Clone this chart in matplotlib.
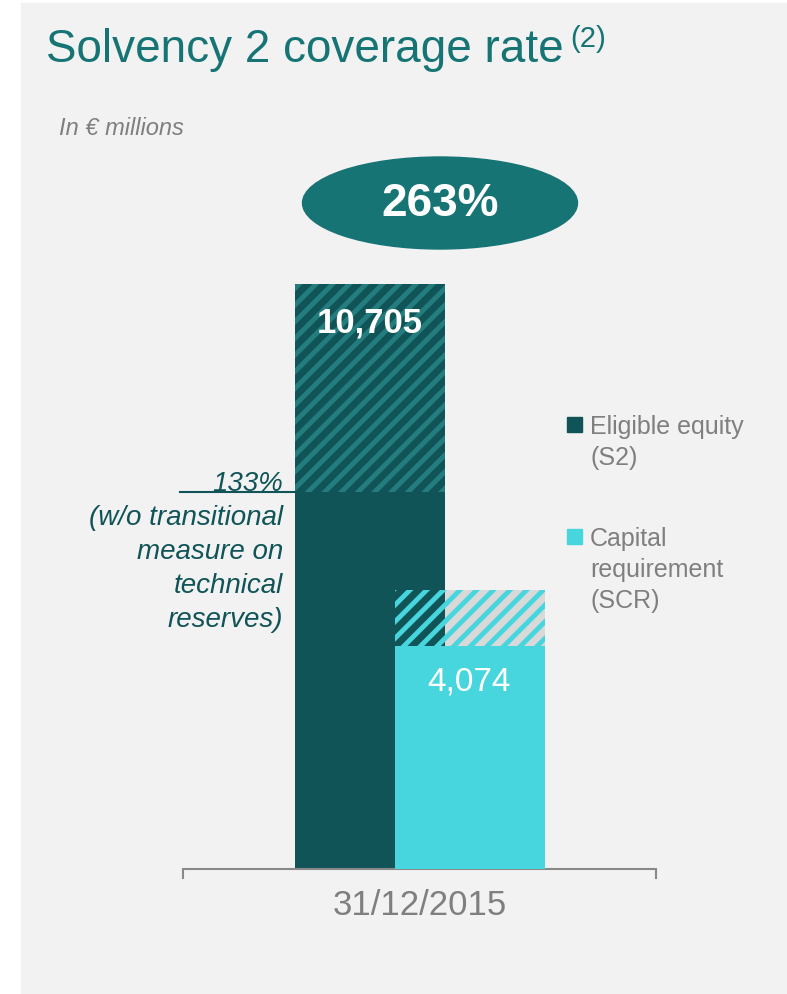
import matplotlib.pyplot as plt
from matplotlib.patches import Ellipse, Rectangle

W, H = 787, 995

# values (in EUR millions)
dates = ['31/12/2015']
series = ['Eligible equity\n(S2)', 'Capital\nrequirement\n(SCR)']
equity_total = [10705]
equity_wo_transitional = [6900]
scr = [4074]
scr_upper = [5100]
coverage = ['263%']
coverage_wo_transitional = ['133%']
note_wo = '(w/o transitional\nmeasure on\ntechnical\nreserves)'

dark = '#115458'
dark_hatch = '#237d7e'
cyan = '#47d6de'
teal = '#177474'
grey_txt = '#7f7f7f'
axis_grey = '#898989'

plt.rcParams['font.family'] = ['Liberation Sans', 'DejaVu Sans']
plt.rcParams['hatch.linewidth'] = 3.5


def fx(x):
    return x / W


def fy(y):
    return 1 - y / H


fig = plt.figure(figsize=(W / 100, H / 100), dpi=100, facecolor='white')
fig.add_artist(Rectangle((fx(21), 0), 1 - fx(21), fy(4), transform=fig.transFigure,
                         color='#f2f2f2', zorder=-1))

ax = fig.add_axes([fx(183), fy(870), fx(656) - fx(183), (870 - 270) / H])
ax.set_facecolor('none')
ax.set_xlim(-2.365, 2.365)
ax.set_ylim(0, equity_total[0] * 600 / 585)

w = 1.5
x_eq = [-0.5]
x_scr = [0.5]

eq_hatch = [t - b for t, b in zip(equity_total, equity_wo_transitional)]
scr_hatch = [u - s for u, s in zip(scr_upper, scr)]

# grey backdrop behind the hatched part of the SCR bar
ax.bar(x_scr, scr_hatch, w, bottom=scr, color='#d9d9d9', zorder=1)
ax.bar(x_eq, equity_wo_transitional, w, color=dark, zorder=2)
ax.bar(x_eq, eq_hatch, w, bottom=equity_wo_transitional, facecolor=dark,
       edgecolor=dark_hatch, hatch='//', linewidth=0, zorder=2)
ax.bar(x_scr, scr_hatch, w, bottom=scr, facecolor='none', edgecolor=cyan,
       hatch='//', linewidth=0, zorder=3)
ax.bar(x_scr, scr, w, color=cyan, zorder=3)

for s in ['top', 'left', 'right']:
    ax.spines[s].set_visible(False)
ax.spines['bottom'].set_color(axis_grey)
ax.spines['bottom'].set_linewidth(1.5)
ax.set_yticks([])
xmin, xmax = ax.get_xlim()
ax.set_xticks([xmin, xmax], ['', ''])
ax.tick_params(axis='x', which='major', length=7.5, width=1.5, color=axis_grey)
ax.set_xticks([0], dates, minor=True)
ax.tick_params(axis='x', which='minor', length=0, pad=14, labelsize=25, labelcolor=grey_txt)

ax.annotate(f'{equity_total[0]:,}', (x_eq[0], equity_total[0]), xytext=(0, -34),
            textcoords='offset points', ha='center', va='baseline',
            color='white', fontsize=25, fontweight='bold')
ax.annotate(f'{scr[0]:,}', (x_scr[0], scr[0]), xytext=(0, -31),
            textcoords='offset points', ha='center', va='baseline',
            color='white', fontsize=24)

# 133% marker line + note
ax.plot([xmin - 0.03, x_eq[0] - w / 2], [equity_wo_transitional[0]] * 2,
        color=dark, lw=1.5, clip_on=False, zorder=2)
ax.annotate(coverage_wo_transitional[0], (x_eq[0] - w / 2, equity_wo_transitional[0]),
            xytext=(-8, 1.5), textcoords='offset points', ha='right', va='baseline',
            color=dark, fontsize=20, style='italic')
ax.annotate(note_wo, (x_eq[0] - w / 2, equity_wo_transitional[0]),
            xytext=(-8, -8.5), textcoords='offset points', ha='right', va='top',
            color=dark, fontsize=20, style='italic', linespacing=1.4)

# coverage bubble
fig.add_artist(Ellipse((fx(440), fy(204)), 275 / W, 92 / H,
                       transform=fig.transFigure, color=teal))
fig.text(fx(440), fy(216), coverage[0], ha='center', va='baseline',
         color='white', fontsize=33, fontweight='bold')

title = fig.text(fx(46), fy(62), 'Solvency 2 coverage rate', fontsize=33,
                 color=teal, va='baseline')
fig.canvas.draw()
title_end = title.get_window_extent().x1
fig.text((title_end + 7) / W, fy(47), '(2)', fontsize=21, color=teal, va='baseline')
fig.text(fx(59), fy(135), 'In € millions', fontsize=17, style='italic',
         color=grey_txt, va='baseline')

# legend drawn by hand so the square sits on the first line
for label, col, top in zip(series, [dark, cyan], [415, 527]):
    fig.add_artist(Rectangle((fx(567), fy(top + 18)), 15 / W, 15 / H,
                             transform=fig.transFigure, color=col))
    fig.text(fx(590), fy(top), label, va='top', fontsize=18, color=grey_txt,
             linespacing=1.36)

fig.savefig('out.png', dpi=100, facecolor=fig.get_facecolor())
